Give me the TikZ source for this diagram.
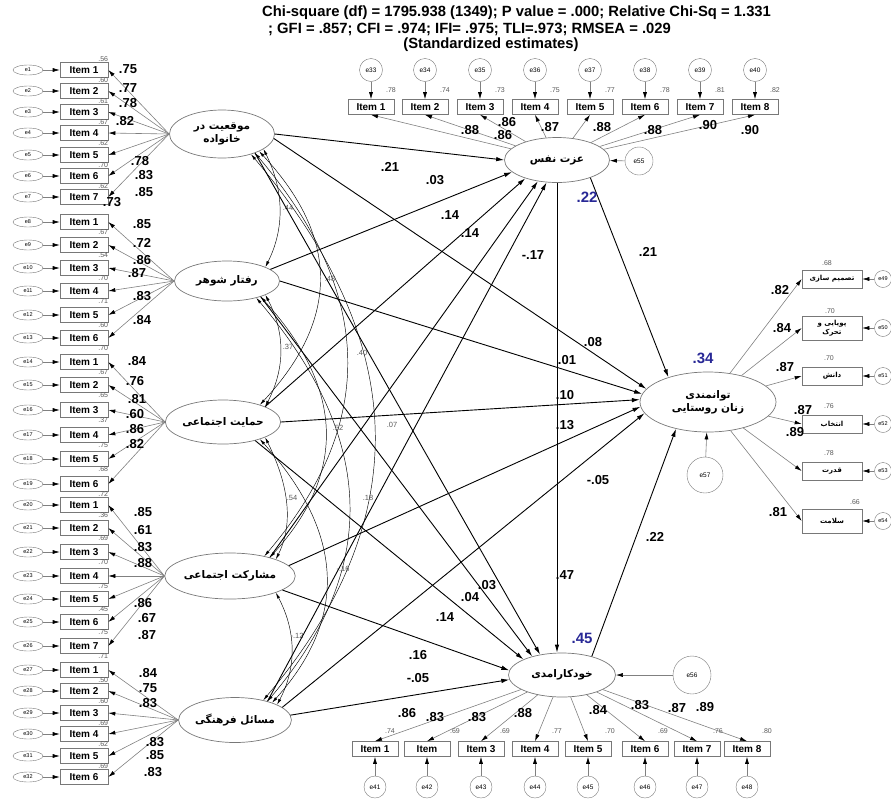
\documentclass[tikz,border=0pt]{standalone}
\usepackage{fontspec}
\setmainfont{Liberation Sans}
\newfontfamily\persianfont[Script=Arabic]{DejaVu Sans}
\TeXXeTstate=1
\usetikzlibrary{arrows.meta,positioning,shapes.geometric,calc}
\newcommand{\pers}[1]{\beginR #1\endR}
\definecolor{rsqblue}{RGB}{40,40,150}
\definecolor{boxgray}{RGB}{120,120,120}

\tikzset{
  head/.style={font=\bfseries\fontsize{14.8}{15}\selectfont, inner sep=0pt},
  item/.style={draw=boxgray, line width=0.6pt, minimum width=46pt, minimum height=15pt, inner sep=0pt, font=\bfseries\fontsize{10}{11}\selectfont},
  rbox/.style={draw=boxgray, line width=0.6pt, minimum width=60pt, minimum height=18pt, inner sep=0pt, align=center, font=\persianfont\bfseries\fontsize{7}{8.5}\selectfont},
  err/.style={ellipse, draw=boxgray, minimum width=30pt, minimum height=10pt, inner sep=0pt, font=\fontsize{5.5}{6}\selectfont},
  errc/.style={circle, draw=boxgray, minimum size=24pt, inner sep=0pt, font=\fontsize{6.5}{7}\selectfont},
  latent/.style={ellipse, draw=boxgray, line width=0.7pt, inner sep=0pt, align=center, font=\persianfont\bfseries\fontsize{10.5}{13}\selectfont},
  load/.style={draw=gray, line width=0.6pt, -{Latex[length=7pt,width=4pt,color=black]}},
  effect/.style={line width=0.9pt, -{Latex[length=8pt,width=4.5pt]}},
  corr/.style={line width=0.45pt, {Latex[length=6pt,width=3pt]}-{Latex[length=6pt,width=3pt]}},
  coef/.style={font=\bfseries\fontsize{13}{14}\selectfont, inner sep=0pt},
  rsq/.style={font=\fontsize{7}{8}\selectfont, text=gray!70!black, inner sep=0pt},
  clab/.style={font=\fontsize{7.5}{8}\selectfont, text=gray!70!black, inner sep=0pt},
  bigrsq/.style={font=\bfseries\fontsize{15}{16}\selectfont, text=rsqblue, inner sep=0pt}
}

\begin{document}
\begin{tikzpicture}[x=1pt, y=-1pt]
\useasboundingbox (0,0) rectangle (891,798);

% fit indices
\node[head, anchor=west] (h1) at (262,13) {Chi-square (df) = 1795.938 (1349); P value = .000; Relative Chi-Sq = 1.331};
\node[head, anchor=west] (h2) at (268,29) {; GFI = .857; CFI = .974; IFI= .975; TLI=.973; RMSEA = .029};
\node[head] (h3) at (491,45) {(Standardized estimates)};

% latent variables
\node[latent, minimum width=105pt, minimum height=48pt] (F1) at (222,134) {\pers{موقعیت در}\\\pers{خانواده}};
\node[latent, minimum width=105pt, minimum height=40pt] (F2) at (227,281) {\pers{رفتار شوهر}};
\node[latent, minimum width=107pt, minimum height=44pt] (F3) at (223,422) {\pers{حمایت اجتماعی}};
\node[latent, minimum width=104pt, minimum height=46pt] (F4) at (230,576) {\pers{مشارکت اجتماعی}};
\node[latent, minimum width=105pt, minimum height=45pt] (F5) at (235,720) {\pers{مسائل فرهنگی}};
\node[latent, minimum width=105pt, minimum height=45pt] (EZ) at (557,160) {\pers{عزت نفس}};
\node[latent, minimum width=107pt, minimum height=44pt] (KH) at (562,675) {\pers{خودکارامدی}};
\node[latent, minimum width=136pt, minimum height=60pt] (TV) at (708,402) {\pers{توانمندی}\\\pers{زنان روستایی}};

% residuals of the latent variables
\node[errc, minimum size=28pt] (e55) at (639,161) {e55};
\node[errc, minimum size=38pt] (e56) at (692,675) {e56};
\node[errc, minimum size=36pt] (e57) at (705,475) {e57};
\draw[load] (e55) -- (EZ);
\draw[load] (e56) -- (KH);
\draw[load] (e57) -- (TV);

% left indicators
\foreach \n/\y/\t in {1/70/1, 2/91/2, 3/112/3, 4/133/4, 5/155/5, 6/176/6, 7/197/7,
                      8/222/1, 9/245/2, 10/268/3, 11/291/4, 12/315/5, 13/338/6,
                      14/362/1, 15/385/2, 16/410/3, 17/435/4, 18/459/5, 19/484/6,
                      20/505/1, 21/528/2, 22/552/3, 23/576/4, 24/599/5, 25/622/6, 26/646/7,
                      27/670/1, 28/691/2, 29/713/3, 30/734/4, 31/756/5, 32/777/6}{
  \node[err] (e\n) at (28,\y) {e\n};
  \node[item, minimum width=48pt] (i\n) at (84,\y) {Item \t};
  \draw[load] (e\n) -- (i\n);
}
\foreach \n in {1,...,7}   \draw[load] (F1.west) -- (i\n.east);
\foreach \n in {8,...,13}  \draw[load] (F2.west) -- (i\n.east);
\foreach \n in {14,...,19} \draw[load] (F3.west) -- (i\n.east);
\foreach \n in {20,...,26} \draw[load] (F4.west) -- (i\n.east);
\foreach \n in {27,...,32} \draw[load] (F5.west) -- (i\n.east);

% squared multiple correlations, left
\node[rsq, anchor=south east] (s0) at (i1.north east) {.56};
\foreach \n/\v in {1/.60, 2/.61, 3/.67, 4/.62, 5/.70, 6/.62, 8/.67, 9/.54, 10/.70, 11/.71, 12/.60, 13/.70,
                   14/.67, 15/.65, 16/.37, 17/.75, 18/.68, 19/.72, 20/.36, 21/.69, 22/.70, 23/.75,
                   24/.45, 25/.75, 26/.71, 27/.50, 28/.60, 29/.69, 30/.62, 31/.69}
  \node[rsq, anchor=north east] (s\n) at (i\n.south east) {\v};
\node[coef] (s7) at (112,202) {.73};

% loadings, left
\foreach \x/\y/\v [count=\k] in {128/69/.75, 128/88/.77, 128/103/.78, 125/121/.82, 140/161/.78, 144/175/.83, 144/192/.85,
                     142/224/.85, 142/243/.72, 142/260/.86, 137/273/.87, 142/296/.83, 142/320/.84,
                     137/361/.84, 135/381/.76, 137/399/.81, 135/414/.60, 135/429/.86, 135/444/.82,
                     143/512/.85, 143/530/.61, 143/547/.83, 143/563/.88, 143/603/.86, 147/618/.67, 147/635/.87,
                     148/673/.84, 148/688/.75, 148/703/.83, 155/742/.83, 155/755/.85, 153/772/.83}
  \node[coef] (la\k) at (\x,\y) {\v};

% top indicators
\foreach \x/\n/\r [count=\k] in {371/33/.78, 425/34/.74, 480/35/.73, 535/36/.75, 590/37/.77, 645/38/.78, 700/39/.81, 755/40/.82}{
  \node[errc, minimum size=23pt] (e\n) at (\x,70) {e\n};
  \node[item] (t\k) at (\x,107) {Item \k};
  \draw[load] (e\n) -- (t\k);
  \draw[load] (EZ) -- (t\k.south);
  \node[rsq] (st\k) at ({\x+20},90) {\r};
}
\foreach \x/\y/\v [count=\k] in {470/130/.88, 507/122/.86, 503/135/.86, 550/127/.87, 602/127/.88, 653/130/.88, 708/125/.90, 750/130/.90}
  \node[coef] (lt\k) at (\x,\y) {\v};

% bottom indicators
\foreach \x/\n/\t/\r/\rx [count=\k] in {375/41/Item 1/.74/390, 427/42/Item/.69/455, 481/43/Item 3/.69/505, 535/44/Item 4/.77/557,
                         588/45/Item 5/.70/610, 645/46/Item 6/.69/663, 697/47/Item 7/.76/718, 747/48/Item 8/.80/767}{
  \node[errc, minimum size=22pt] (e\n) at (\x,787) {e\n};
  \node[item] (b\k) at (\x,749) {\t};
  \draw[load] (e\n) -- (b\k);
  \draw[load] (KH) -- (b\k.north);
  \node[rsq] (sb\k) at (\rx,731) {\r};
}
\foreach \x/\y/\v [count=\k] in {407/713/.86, 435/717/.83, 477/717/.83, 523/713/.88, 598/710/.84, 640/705/.83, 677/708/.87, 705/707/.89}
  \node[coef] (lb\k) at (\x,\y) {\v};

% right indicators
\node[rbox] (r1) at (832,279) {\pers{تصمیم سازی}};
\node[rbox, minimum height=24pt] (r2) at (832,328) {\pers{پویایی و}\\\pers{تحرک}};
\node[rbox] (r3) at (832,376) {\pers{دانش}};
\node[rbox] (r4) at (832,424) {\pers{انتخاب}};
\node[rbox] (r5) at (832,471) {\pers{قدرت}};
\node[rbox, minimum height=24pt] (r6) at (832,521) {\pers{سلامت}};
\foreach \k/\n in {1/49, 2/50, 3/51, 4/52, 5/53, 6/54}{
  \node[errc, minimum size=17pt, font=\fontsize{5.5}{6}\selectfont] (re\k) at (r\k.center -| 883,0) {e\n};
  \draw[load] (re\k) -- (r\k.east);
  \draw[load] (TV) -- (r\k.west);
}
\foreach \x/\y/\v [count=\k] in {827/263/.68, 830/311/.70, 829/358/.70, 829/406/.76, 829/453/.78, 855/502/.66}
  \node[rsq] (sr\k) at (\x,\y) {\v};
\foreach \x/\y/\v [count=\k] in {780/290/.82, 782/328/.84, 785/367/.87, 803/410/.87, 795/432/.89, 778/512/.81}
  \node[coef] (lr\k) at (\x,\y) {\v};

% correlations between exogenous factors
\foreach \a/\b/\s/\dx/\dy in {F1/F2/20/20/40, F2/F3/20/20/38, F3/F4/20/20/40, F4/F5/20/20/38,
                               F1/F3/25/80/86, F2/F4/25/80/88, F3/F5/25/80/89,
                               F1/F4/30/116/137, F2/F5/30/116/137, F1/F5/35/156/185}
  \draw[corr] (\a.-\s) .. controls +(\dx,\dy) and +(\dx,-\dy) .. (\b.\s);
\foreach \x/\y/\v [count=\k] in {288/208/.44, 330/279/.48, 288/347/.37, 362/353/.40, 338/428/.52,
                                 392/425/.07, 292/498/.54, 368/498/.18, 343/569/-.16, 297/636/-.12}
  \node[clab] (cr\k) at (\x,\y) {\v};

% structural paths
\draw[effect] (F1.east) -- (EZ.180);
\draw[effect] (F2.15) -- (EZ.195);
\draw[effect] (F3.20) -- (EZ.210);
\draw[effect] (F4.25) -- (EZ.228);
\draw[effect] (F5.30) -- (EZ.245);
\draw[effect] (F1.-5) -- (TV.168);
\draw[effect] (F2.east) -- (TV.173);
\draw[effect] (F3.east) -- (TV.178);
\draw[effect] (F4.10) -- (TV.184);
\draw[effect] (F5.15) -- (TV.190);
\draw[effect] (F1.-30) -- (KH.137);
\draw[effect] (F2.-25) -- (KH.148);
\draw[effect] (F3.-30) -- (KH.158);
\draw[effect] (F4.-15) -- (KH.175);
\draw[effect] (F5.5) -- (KH.185);
\draw[effect] (EZ.south) -- (EZ.south |- KH.north);
\draw[effect] (EZ.-28) -- (TV.148);
\draw[effect] (KH.32) -- (TV.-140);

\foreach \x/\y/\v [count=\k] in {390/167/.21, 435/180/.03, 450/215/.14, 470/233/.14, 533/255/-.17,
                                 593/342/.08, 567/360/.01, 565/395/.10, 565/425/.13, 598/480/-.05,
                                 487/585/.03, 470/597/.04, 445/617/.14, 418/655/.16, 418/678/-.05,
                                 565/575/.47, 648/252/.21, 655/537/.22}
  \node[coef] (g\k) at (\x,\y) {\v};

\node[bigrsq] (rEZ) at (587,197) {.22};
\node[bigrsq] (rTV) at (703,358) {.34};
\node[bigrsq] (rKH) at (582,638) {.45};
\end{tikzpicture}
\end{document}
